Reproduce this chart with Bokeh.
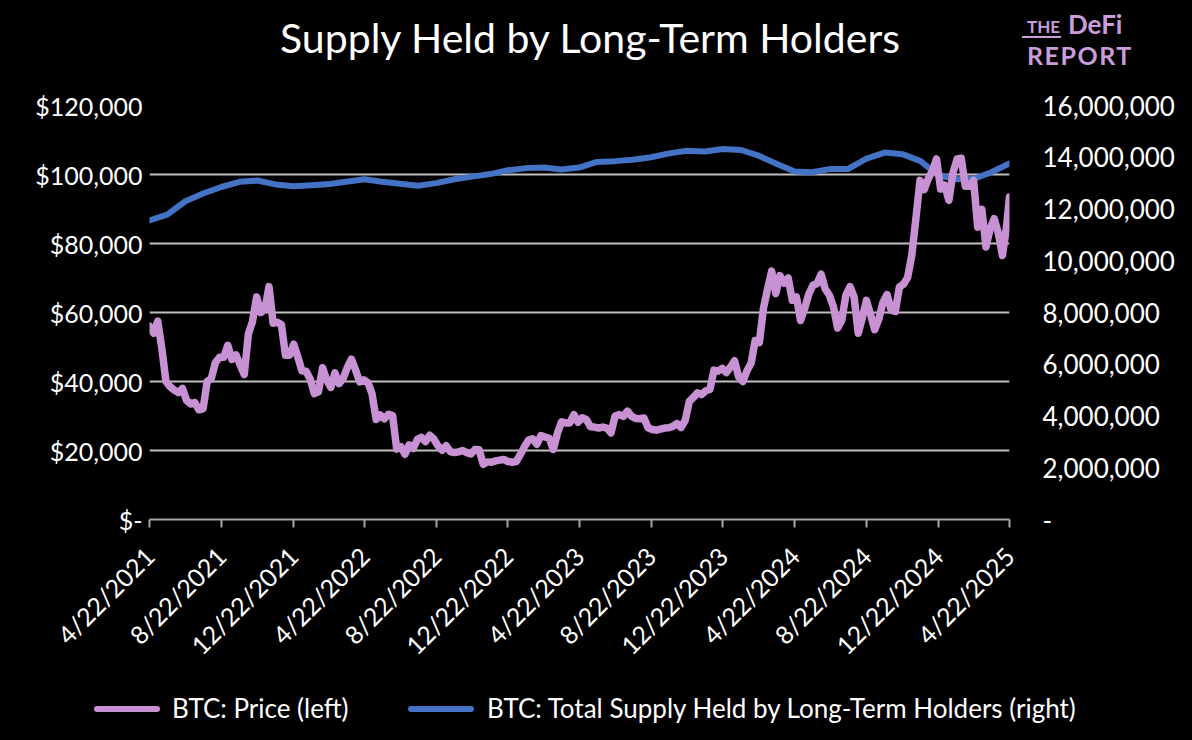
import math
from datetime import datetime
import pandas as pd
from bokeh.plotting import figure
from bokeh.layouts import column
from bokeh.models import (Range1d, LinearAxis, FixedTicker, CustomJSTickFormatter,
                          ColumnDataSource, Div)
from bokeh.embed import file_html
from bokeh.resources import INLINE

FONT = "Lato"

# ---------------- data ----------------
title_text = "Supply Held by Long-Term Holders"
price_label = "BTC: Price (left)"
lth_label = "BTC: Total Supply Held by Long-Term Holders (right)"

# BTC price, weekly (Thursdays from 4/22/2021), last point 4/22/2025
price_2021 = [56000, 54000, 57500, 49500, 40000, 38500, 37500, 36800, 38000, 34500,
              33500, 33900, 31800, 32100, 40000, 40900, 45500, 47000, 47000, 50500,
              46400, 47700, 44800, 42000, 53800, 57400, 64500, 60000, 61000, 67500,
              56900, 57200, 56500, 47600, 47600, 50800, 47100]
price_2022 = [43100, 43000, 40700, 36500, 37000, 44000, 40500, 38300, 42500, 39400,
              40900, 44000, 46500, 43400, 39900, 40500, 39700, 36500, 29000, 30300,
              29200, 30500, 30100, 20400, 21100, 18900, 21600, 20600, 23200, 23800,
              22600, 24400, 23300, 21400, 20100, 21400, 19700, 19400, 19600, 20000,
              19400, 19000, 20300, 20200, 16000, 16700, 16600, 17000, 17200, 17400,
              16800, 16600]
price_2023 = [16800, 18900, 21100, 23000, 23400, 21800, 24300, 23900, 23500, 20300,
              25000, 28300, 28000, 28000, 30400, 28200, 29500, 29000, 26900, 26800,
              26500, 26800, 26500, 25100, 30000, 30400, 29900, 31400, 29900, 29300,
              29200, 29400, 26600, 26100, 25900, 26200, 26500, 26600, 27000, 27800,
              26700, 28700, 34200, 35400, 36700, 36200, 37300, 37700, 43300, 43000,
              43800, 42600]
price_2024 = [44200, 46000, 41300, 40000, 43100, 45300, 51900, 51300, 61200, 66800,
              72000, 65500, 70700, 68500, 70000, 63500, 64500, 57700, 61200, 65300,
              67900, 68400, 71100, 66800, 65000, 61600, 55500, 57700, 65000, 67500,
              64500, 54000, 58500, 63500, 59400, 55000, 58100, 62900, 65200, 60600,
              60300, 67400, 68200, 70200, 76600, 87300, 98300, 95600, 98800, 101000,
              104500, 95800]
price_2025 = [96900, 92500, 100500, 104500, 104700, 96600, 96600, 98300, 84700, 89900,
              79000, 84200, 87200, 83000, 76500, 84900, 93500]

# BTC supply held by long-term holders, monthly (22nd of each month, 4/2021 - 4/2025)
lth_supply = [11560000, 11780000, 12300000, 12600000, 12850000, 13050000, 13100000,
              12950000, 12880000, 12920000, 12970000, 13050000, 13150000, 13050000,
              12980000, 12900000, 13000000, 13150000, 13250000, 13350000, 13500000,
              13580000, 13600000, 13530000, 13600000, 13820000, 13850000, 13900000,
              14000000, 14150000, 14250000, 14220000, 14320000, 14280000, 14050000,
              13750000, 13450000, 13420000, 13550000, 13550000, 13950000, 14180000,
              14120000, 13850000, 13300000, 13150000, 13180000, 13420000, 13760000]

x_tick_labels = ["4/22/2021", "8/22/2021", "12/22/2021", "4/22/2022", "8/22/2022",
                 "12/22/2022", "4/22/2023", "8/22/2023", "12/22/2023", "4/22/2024",
                 "8/22/2024", "12/22/2024", "4/22/2025"]
left_ticks = [0, 20000, 40000, 60000, 80000, 100000, 120000]
left_tick_labels = ["$-", "$20,000", "$40,000", "$60,000", "$80,000", "$100,000", "$120,000"]
right_ticks = [0, 2000000, 4000000, 6000000, 8000000, 10000000, 12000000, 14000000, 16000000]
right_tick_labels = ["-", "2,000,000", "4,000,000", "6,000,000", "8,000,000",
                     "10,000,000", "12,000,000", "14,000,000", "16,000,000"]

# ---------------- build ----------------
prices = price_2021 + price_2022 + price_2023 + price_2024 + price_2025
n_weekly = len(prices) - 1
price_dates = list(pd.date_range("2021-04-22", periods=n_weekly, freq="7D")) + [pd.Timestamp("2025-04-22")]
lth_dates = list(pd.date_range("2021-04-01", periods=len(lth_supply), freq="MS") + pd.Timedelta(days=21))

price_src = ColumnDataSource(dict(date=price_dates, price=prices))
lth_src = ColumnDataSource(dict(date=lth_dates, supply=lth_supply))

x_ticks = [int(pd.Timestamp(datetime.strptime(s, "%m/%d/%Y")).value // 10**6) for s in x_tick_labels]

PINK = "#c891d3"
BLUE = "#4472c4"
GRID = "#bfbfbf"
BG = "#000000"
LOGO = "#c99ddb"
W = 1192
HDR_H = 85
MAIN_H = 595
FTR_H = 740 - HDR_H - MAIN_H

# ---------- header (title + logo) ----------
header_html = f"""
<div style="position:relative;width:{W}px;height:{HDR_H}px;background:#000;font-family:'{FONT}';overflow:hidden;">
  <div style="position:absolute;left:0px;top:12px;width:1180px;text-align:center;color:#ffffff;
              font-size:41px;line-height:52px;white-space:nowrap;">{title_text}</div>
  <div style="position:absolute;left:1022px;top:18px;color:{LOGO};font-weight:bold;font-size:17px;
              line-height:17px;padding:0 1px 1px 5px;border-bottom:2px solid {LOGO};">THE</div>
  <div style="position:absolute;left:1068px;top:11px;color:{LOGO};font-weight:bold;font-size:26px;
              line-height:26px;">DeFi</div>
  <div style="position:absolute;left:1027px;top:43px;color:{LOGO};font-weight:bold;font-size:25px;
              line-height:25px;letter-spacing:1.5px;">REPORT</div>
</div>
"""
hdr = Div(text=header_html, width=W, height=HDR_H, margin=0, styles={"background-color": BG})

# ---------- main chart ----------
p = figure(width=W, height=MAIN_H, output_backend="svg", toolbar_location=None,
           x_axis_type="datetime",
           x_range=Range1d(start=pd.Timestamp("2021-04-22"), end=pd.Timestamp("2025-04-22")),
           y_range=Range1d(0, 120000),
           min_border_left=149, min_border_right=183, min_border_top=20,
           min_border_bottom=MAIN_H - 20 - 414, margin=0,
           background_fill_color=BG, border_fill_color=BG, outline_line_color=None)
p.extra_y_ranges = {"lth": Range1d(0, 16000000)}

p.xgrid.visible = False
p.ygrid.ticker = FixedTicker(ticks=left_ticks)
p.ygrid.grid_line_color = GRID
p.ygrid.grid_line_width = 2

r_lth = p.line(x="date", y="supply", source=lth_src, y_range_name="lth",
               line_color=BLUE, line_width=6, line_cap="round", line_join="round")
r_price = p.line(x="date", y="price", source=price_src,
                 line_color=PINK, line_width=7.5, line_cap="round", line_join="round")

xa = p.xaxis[0]
xa.ticker = FixedTicker(ticks=x_ticks)
xa.formatter = CustomJSTickFormatter(args=dict(xt=x_ticks, xl=x_tick_labels),
                                     code="const i = xt.indexOf(tick); return i >= 0 ? xl[i] : '';")
xa.major_label_orientation = math.pi / 4
xa.major_label_text_font = FONT
xa.major_label_text_font_size = "25px"
xa.major_label_text_color = "white"
xa.axis_line_color = "#a6a6a6"
xa.axis_line_width = 2
xa.major_tick_line_color = "#a6a6a6"
xa.major_tick_line_width = 2
xa.major_tick_out = 8
xa.major_tick_in = 0
xa.minor_tick_line_color = None
xa.major_label_standoff = 24

ya = p.yaxis[0]
ya.ticker = FixedTicker(ticks=left_ticks)
ya.major_label_overrides = {t: l for t, l in zip(left_ticks, left_tick_labels)}
ya.major_label_text_font = FONT
ya.major_label_text_font_size = "25px"
ya.major_label_text_color = "white"
ya.axis_line_color = None
ya.major_tick_line_color = None
ya.minor_tick_line_color = None
ya.major_tick_out = 0
ya.major_label_standoff = 7

ra = LinearAxis(y_range_name="lth", ticker=FixedTicker(ticks=right_ticks))
ra.major_label_overrides = {t: l for t, l in zip(right_ticks, right_tick_labels)}
ra.major_label_text_font = FONT
ra.major_label_text_font_size = "26px"
ra.major_label_text_color = "white"
ra.axis_line_color = None
ra.major_tick_line_color = None
ra.minor_tick_line_color = None
ra.major_tick_out = 0
ra.major_label_standoff = 33
p.add_layout(ra, "right")

# ---------- footer (legend) ----------
footer_html = f"""
<div style="position:relative;width:{W}px;height:{FTR_H}px;background:#000;font-family:'{FONT}';overflow:hidden;">
  <div style="position:absolute;left:94px;top:26px;width:66px;height:6px;border-radius:3px;background:{PINK};"></div>
  <div style="position:absolute;left:172px;top:13px;color:#ffffff;font-size:26px;line-height:30px;white-space:nowrap;">{price_label}</div>
  <div style="position:absolute;left:408px;top:26px;width:66px;height:6px;border-radius:3px;background:{BLUE};"></div>
  <div style="position:absolute;left:487px;top:13px;color:#ffffff;font-size:26px;line-height:30px;white-space:nowrap;">{lth_label}</div>
</div>
"""
ftr = Div(text=footer_html, width=W, height=FTR_H, margin=0, styles={"background-color": BG})

layout = column(hdr, p, ftr, spacing=0)

html = file_html(layout, INLINE)
html = html.replace("<head>", "<head><style>html, body { background-color: #000000; }</style>", 1)
open("out.html", "w").write(html)
